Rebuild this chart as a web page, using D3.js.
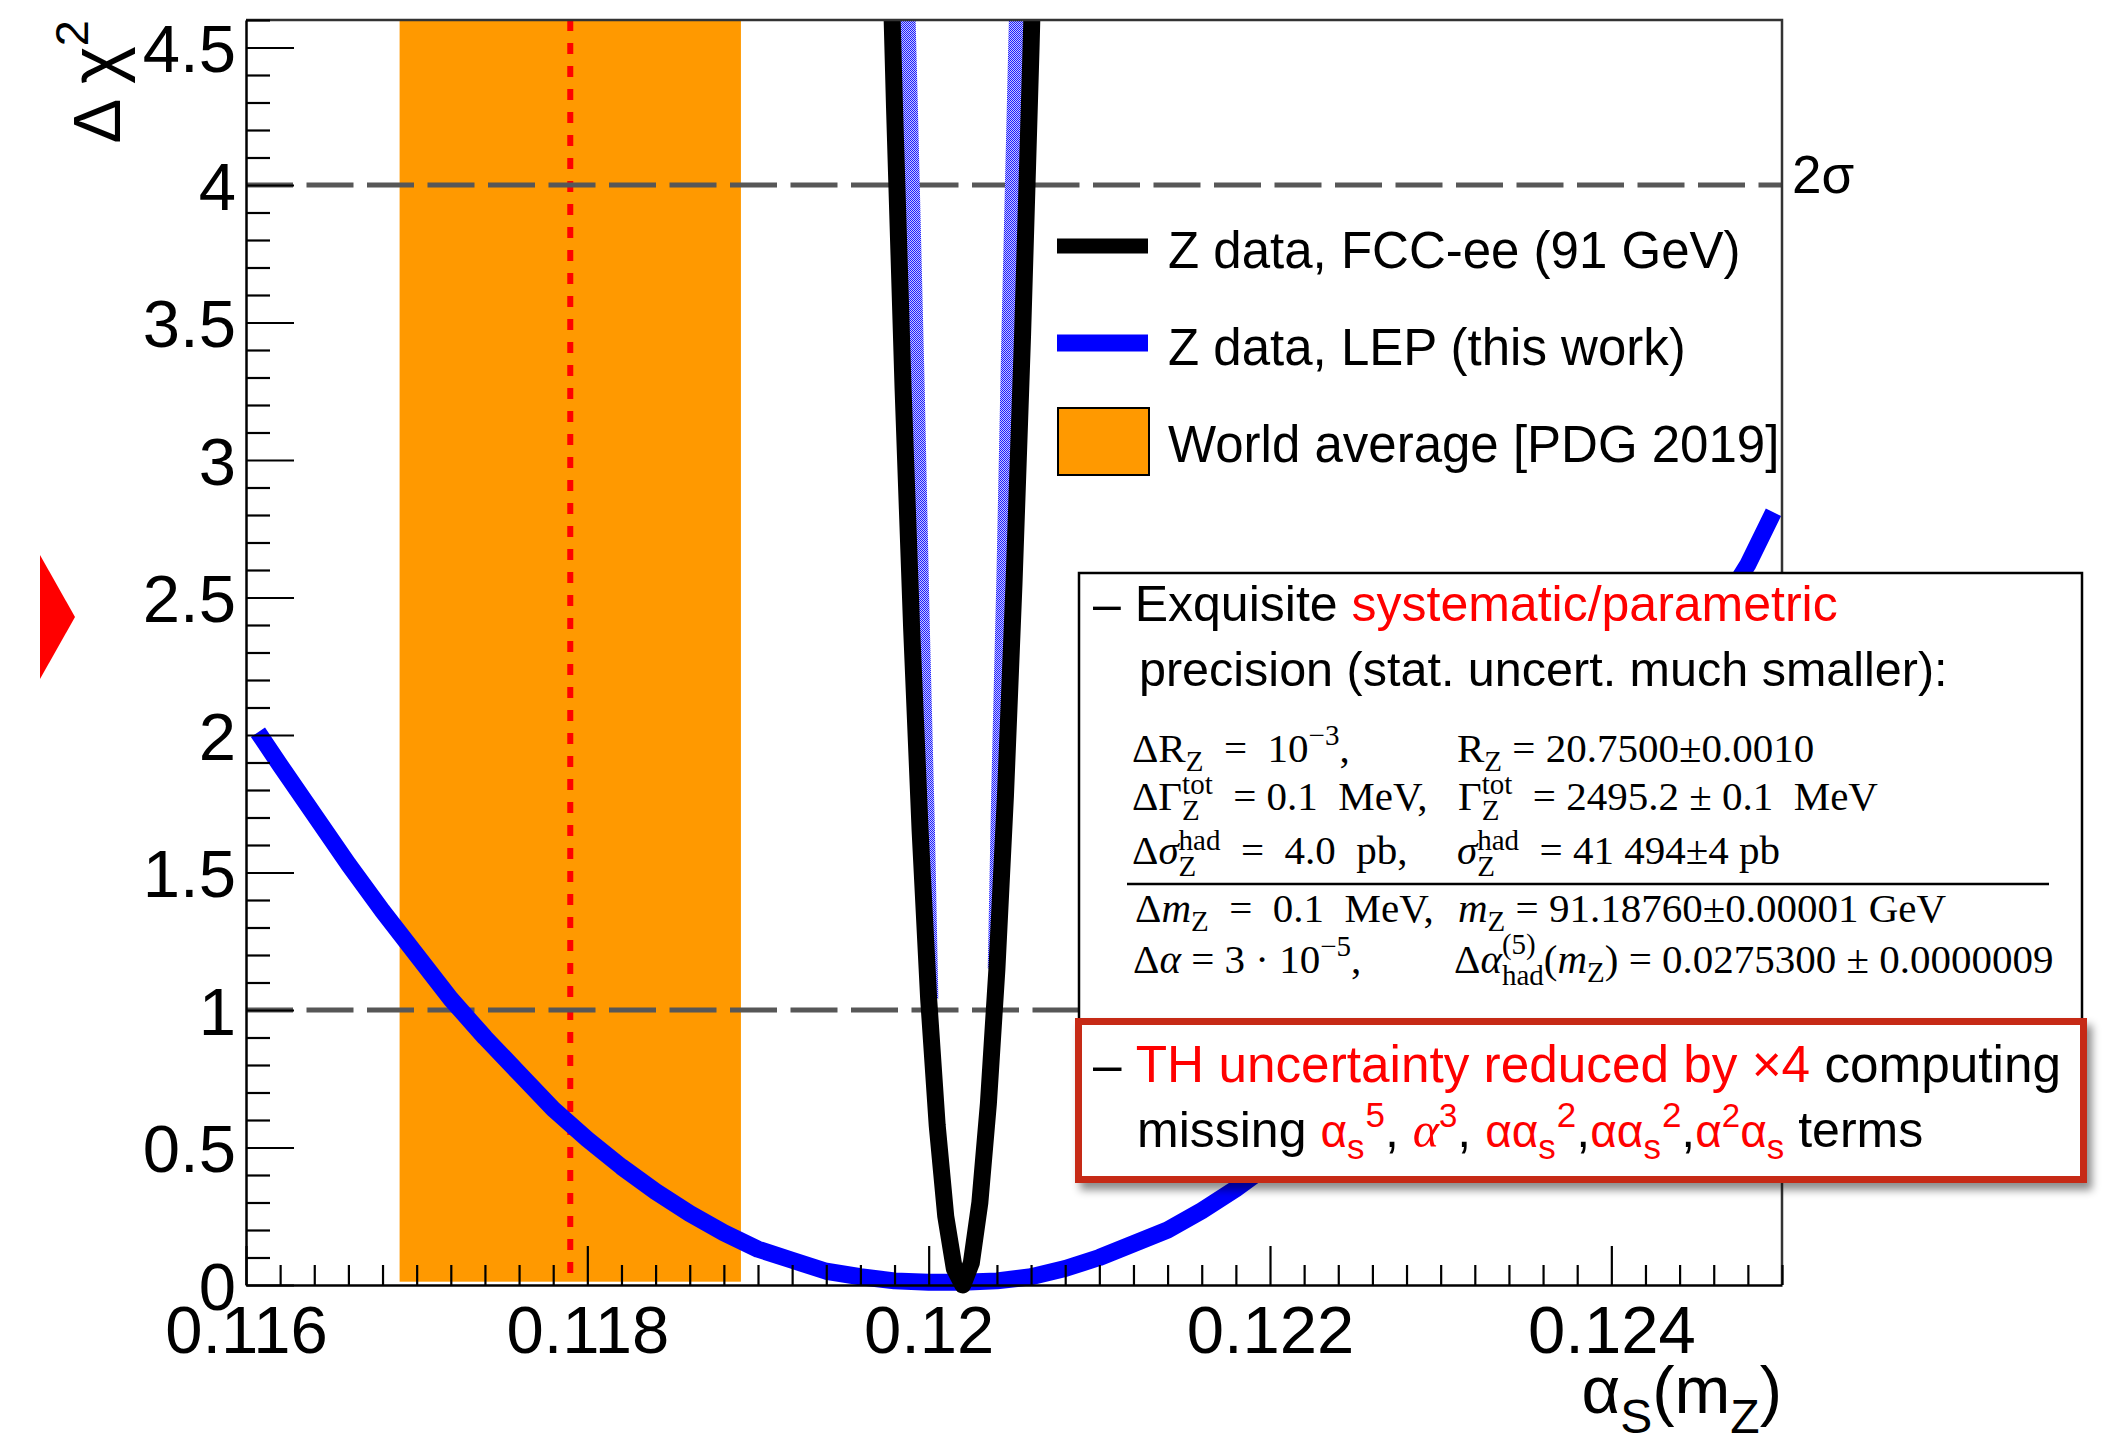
<!DOCTYPE html>
<html><head><meta charset="utf-8">
<script src="https://cdn.jsdelivr.net/npm/d3@7"></script>
<style>
html,body{margin:0;padding:0;background:#fff;}
svg{display:block;}
text{white-space:pre;}
</style></head><body>
<svg id="c" width="2106" height="1444" xmlns="http://www.w3.org/2000/svg"></svg>
<script>
// ---------------- data ----------------
const xTickValues = [0.116, 0.118, 0.120, 0.122, 0.124];
const xTickLabels = ["0.116", "0.118", "0.12", "0.122", "0.124"];
const yTickValues = [0, 0.5, 1, 1.5, 2, 2.5, 3, 3.5, 4, 4.5];
const yTickLabels = ["0", "0.5", "1", "1.5", "2", "2.5", "3", "3.5", "4", "4.5"];

// LEP (this work) Delta chi^2 curve
const lepAlpha = [0.11607, 0.1162, 0.1164, 0.1166, 0.1168, 0.1170, 0.1172, 0.1174, 0.1176, 0.1178,
  0.1180, 0.1182, 0.1184, 0.1186, 0.1188, 0.1190, 0.1192, 0.1194, 0.1196, 0.1198,
  0.1200, 0.1202, 0.1204, 0.1206, 0.1208, 0.1210, 0.1212, 0.1214, 0.1216, 0.1218,
  0.1220, 0.1222, 0.1224, 0.1226, 0.1228, 0.1230, 0.1232, 0.1234, 0.1236, 0.1238,
  0.1240, 0.1242, 0.1244, 0.1246, 0.1248, 0.12495];
const lepChi2 = [2.01, 1.89, 1.71, 1.53, 1.36, 1.20, 1.04, 0.90, 0.77, 0.64,
  0.53, 0.43, 0.34, 0.26, 0.19, 0.13, 0.09, 0.05, 0.03, 0.015,
  0.01, 0.01, 0.015, 0.03, 0.06, 0.10, 0.15, 0.20, 0.27, 0.35,
  0.44, 0.53, 0.64, 0.76, 0.88, 1.02, 1.16, 1.32, 1.48, 1.65,
  1.83, 2.02, 2.22, 2.42, 2.62, 2.81];

// FCC-ee projection
const fccAlpha = [0.11975, 0.11980, 0.11985, 0.11990, 0.11995, 0.12000, 0.12005, 0.12010, 0.12015, 0.12020,
  0.12025, 0.12030, 0.12035, 0.12040, 0.12045, 0.12050, 0.12055, 0.12060, 0.12065];
const fccChi2 = [5.43, 4.28, 3.26, 2.39, 1.65, 1.04, 0.58, 0.25, 0.06, 0.00,
  0.08, 0.30, 0.66, 1.15, 1.78, 2.55, 3.45, 4.50, 5.67];

// hatched (blue stipple) band along the inner side of the FCC-ee curve
const bandLeftAlpha = [0.11986, 0.11989, 0.11993, 0.11996, 0.11999, 0.12001];
const bandLeftChi2 = [5.0, 4.28, 3.26, 2.39, 1.65, 1.04];
const bandRightAlpha = [0.12039, 0.12041, 0.12044, 0.12047, 0.12051, 0.12053];
const bandRightChi2 = [1.15, 1.78, 2.55, 3.45, 4.50, 5.0];

// PDG 2019 world average
const pdgCentral = 0.1179, pdgLow = 0.1169, pdgHigh = 0.1189;
const sigmaLevels = [1, 4];
const legendLabels = ["Z data, FCC-ee (91 GeV)", "Z data, LEP (this work)", "World average [PDG 2019]"];

// ---------------- layout ----------------
const L = 246, R = 1782, T = 20, B = 1285;
const SANS = "'Liberation Sans', Arial, Helvetica, sans-serif";
const SERIF = "'Liberation Serif', 'Times New Roman', serif";
const svg = d3.select("#c");
const x = d3.scaleLinear().domain([0.116, 0.125]).range([L, R]);
const y = d3.scaleLinear().domain([0, 4.6]).range([B, T]);

const defs = svg.append("defs");
defs.append("clipPath").attr("id", "clipTop").append("rect")
  .attr("x", L).attr("y", T).attr("width", R - L).attr("height", 1444 - T);
const pat = defs.append("pattern").attr("id", "stip").attr("patternUnits", "userSpaceOnUse")
  .attr("width", 2).attr("height", 2);
pat.append("rect").attr("width", 2).attr("height", 2).attr("fill", "#c4c4ff");
pat.append("rect").attr("width", 1).attr("height", 1).attr("fill", "#1e1eff");
pat.append("rect").attr("x", 1).attr("y", 1).attr("width", 1).attr("height", 1).attr("fill", "#1e1eff");
const f = defs.append("filter").attr("id", "shadow").attr("x", "-5%").attr("y", "-20%").attr("width", "115%").attr("height", "150%");
f.append("feDropShadow").attr("dx", 5).attr("dy", 7).attr("stdDeviation", 4)
  .attr("flood-color", "#000").attr("flood-opacity", 0.45);

// rich text helper
function rich(parent, x0, y0, pieces, size, family) {
  let cx = x0;
  for (const p of pieces) {
    if (p.gap !== undefined) { cx += p.gap; continue; }
    if (p.stack) {
      const s = p.size || size * 0.7;
      const a = parent.append("text").attr("x", cx).attr("y", y0 - p.up).attr("font-size", s)
        .attr("font-family", p.f || family).attr("fill", p.c || "#000").text(p.sup);
      const b = parent.append("text").attr("x", cx).attr("y", y0 + p.down).attr("font-size", s)
        .attr("font-family", p.f || family).attr("fill", p.c || "#000").text(p.sub);
      cx += Math.max(a.node().getComputedTextLength(), b.node().getComputedTextLength()) + (p.after || 0);
      continue;
    }
    const t = parent.append("text").attr("x", cx).attr("y", y0 + (p.dy || 0))
      .attr("font-size", p.size || size).attr("font-family", p.f || family)
      .attr("font-style", p.it ? "italic" : "normal").attr("fill", p.c || "#000").text(p.t);
    cx += t.node().getComputedTextLength() + (p.after || 0);
  }
  return cx;
}

// ---------------- plot ----------------
svg.append("rect").attr("x", x(pdgLow)).attr("width", x(pdgHigh) - x(pdgLow))
  .attr("y", y(4.6)).attr("height", y(0.012) - y(4.6)).attr("fill", "#ff9900");
svg.append("line").attr("x1", x(pdgCentral)).attr("x2", x(pdgCentral)).attr("y1", y(4.6)).attr("y2", y(0))
  .attr("stroke", "#ff0000").attr("stroke-width", 6).attr("stroke-dasharray", "11 12");

svg.selectAll("line.lvl").data(sigmaLevels).join("line").attr("class", "lvl")
  .attr("x1", L).attr("x2", R).attr("y1", d => y(d)).attr("y2", d => y(d))
  .attr("stroke", "#575757").attr("stroke-width", 5).attr("stroke-dasharray", "47 13.5");

const line = d3.line().x(d => x(d[0])).y(d => y(d[1]));
const curves = svg.append("g").attr("clip-path", "url(#clipTop)");
curves.append("path").attr("d", line(d3.zip(lepAlpha, lepChi2)))
  .attr("fill", "none").attr("stroke", "#0000ff").attr("stroke-width", 17).attr("stroke-linejoin", "round");
curves.append("path").attr("d", line(d3.zip(bandLeftAlpha, bandLeftChi2)))
  .attr("fill", "none").attr("stroke", "url(#stip)").attr("stroke-width", 16).attr("stroke-linejoin", "round");
curves.append("path").attr("d", line(d3.zip(bandRightAlpha, bandRightChi2)))
  .attr("fill", "none").attr("stroke", "url(#stip)").attr("stroke-width", 15).attr("stroke-linejoin", "round");
curves.append("path").attr("d", line(d3.zip(fccAlpha, fccChi2)))
  .attr("fill", "none").attr("stroke", "#000").attr("stroke-width", 17).attr("stroke-linejoin", "round");

svg.append("path").attr("d", `M${L},${T}H${R}V${B}`).attr("fill", "none").attr("stroke", "#333").attr("stroke-width", 2.5);

// axes
const yMinor = d3.range(0, 4.6001, 0.1).map(v => +v.toFixed(1)).filter(v => Math.abs(v * 2 - Math.round(v * 2)) > 1e-6);
const xMinor = d3.range(0.116, 0.12501, 0.0002).map(v => +v.toFixed(4)).filter(v => Math.abs(v / 0.002 - Math.round(v / 0.002)) > 1e-6);

const gy = svg.append("g").attr("transform", `translate(${L},0)`)
  .call(d3.axisLeft(y).tickValues(yTickValues).tickFormat((d, i) => yTickLabels[i]).tickSize(-48).tickSizeOuter(0).tickPadding(10));
svg.append("g").attr("transform", `translate(${L},0)`)
  .call(d3.axisLeft(y).tickValues(yMinor).tickFormat("").tickSize(-24).tickSizeOuter(0))
  .call(g => g.select(".domain").remove());
const gx = svg.append("g").attr("transform", `translate(0,${B})`)
  .call(d3.axisBottom(x).tickValues(xTickValues).tickFormat((d, i) => xTickLabels[i]).tickSize(-39).tickSizeOuter(0).tickPadding(20));
svg.append("g").attr("transform", `translate(0,${B})`)
  .call(d3.axisBottom(x).tickValues(xMinor).tickFormat("").tickSize(-20).tickSizeOuter(0))
  .call(g => g.select(".domain").remove());
svg.selectAll(".tick line").attr("stroke", "#000").attr("stroke-width", 2.2);
svg.selectAll(".domain").attr("stroke", "#000").attr("stroke-width", 2.5);
[gy, gx].forEach(g => g.selectAll("text").attr("font-family", SANS).attr("font-size", 67).attr("fill", "#000"));
gy.selectAll("text").attr("dy", "0.36em");

// axis titles
const xt = svg.append("g");
const xw = rich(xt, 0, 1413, [
  { t: "α" }, { t: "S", size: 48, dy: 20 }, { t: "(m" }, { t: "Z", size: 48, dy: 20 }, { t: ")" }
], 67, SANS);
xt.attr("transform", `translate(${R - xw},0)`);

const ytOuter = svg.append("g").attr("transform", `translate(120,20) rotate(-90)`);
const yt = ytOuter.append("g");
const yw = rich(yt, 0, 0, [{ t: "Δ " }, { t: "χ", size: 72 }, { t: "2", size: 47, dy: -32 }], 67, SANS);
yt.attr("transform", `translate(${-yw},0)`);

svg.append("text").attr("x", 1792).attr("y", 193).attr("font-family", SANS).attr("font-size", 53).text("2σ");

// legend
const lg = svg.append("g");
lg.append("line").attr("x1", 1057).attr("x2", 1148).attr("y1", 246).attr("y2", 246).attr("stroke", "#000").attr("stroke-width", 15);
lg.append("line").attr("x1", 1057).attr("x2", 1148).attr("y1", 343).attr("y2", 343).attr("stroke", "#0000ff").attr("stroke-width", 17);
lg.append("rect").attr("x", 1058).attr("y", 408).attr("width", 91).attr("height", 67).attr("fill", "#ff9900").attr("stroke", "#000").attr("stroke-width", 2);
lg.selectAll("text").data(legendLabels).join("text")
  .attr("x", 1168).attr("y", (d, i) => [268, 365, 462][i])
  .attr("font-family", SANS).attr("font-size", 51).attr("fill", "#000").text(d => d);

// ---------------- text boxes ----------------
svg.append("rect").attr("x", 1079).attr("y", 573).attr("width", 1003).attr("height", 460)
  .attr("fill", "#fff").attr("stroke", "#000").attr("stroke-width", 2.5);
const tb = svg.append("g");
rich(tb, 1093, 621, [{ t: "– " }, { t: "Exquisite " }, { t: "systematic/parametric", c: "#ff0000" }], 50, SANS);
rich(tb, 1139, 686, [{ t: "precision (stat. uncert. much smaller):" }], 48.5, SANS);

const M = 41, S = 29;
const sub = t => ({ t, size: S, dy: 9 });
const sup = t => ({ t, size: S, dy: -17 });
const mg = svg.append("g");
rich(mg, 1132, 762, [{ t: "ΔR" }, sub("Z"), { t: "  =  10" }, sup("−3"), { t: "," }], M, SERIF);
rich(mg, 1457, 762, [{ t: "R" }, sub("Z"), { t: " = 20.7500±0.0010" }], M, SERIF);
rich(mg, 1132, 810, [{ t: "ΔΓ" }, { stack: true, sup: "tot", sub: "Z", up: 16, down: 10, size: S }, { t: "  = 0.1  MeV," }], M, SERIF);
rich(mg, 1458, 810, [{ t: "Γ" }, { stack: true, sup: "tot", sub: "Z", up: 16, down: 10, size: S }, { t: "  = 2495.2 ± 0.1  MeV" }], M, SERIF);
rich(mg, 1132, 864, [{ t: "Δ" }, { t: "σ", it: true }, { stack: true, sup: "had", sub: "Z", up: 14, down: 12, size: S }, { t: "  =  4.0  pb," }], M, SERIF);
rich(mg, 1457, 864, [{ t: "σ", it: true }, { stack: true, sup: "had", sub: "Z", up: 14, down: 12, size: S }, { t: "  = 41 494±4 pb" }], M, SERIF);
mg.append("line").attr("x1", 1127).attr("x2", 2049).attr("y1", 884).attr("y2", 884).attr("stroke", "#000").attr("stroke-width", 2.5);
rich(mg, 1135, 922, [{ t: "Δ" }, { t: "m", it: true }, sub("Z"), { t: "  =  0.1  MeV," }], M, SERIF);
rich(mg, 1458, 922, [{ t: "m", it: true }, sub("Z"), { t: " = 91.18760±0.00001 GeV" }], M, SERIF);
rich(mg, 1133, 973, [{ t: "Δ" }, { t: "α", it: true }, { t: " = 3 · 10" }, sup("−5"), { t: "," }], M, SERIF);
rich(mg, 1454, 973, [{ t: "Δ" }, { t: "α", it: true }, { stack: true, sup: "(5)", sub: "had", up: 19, down: 12, size: S }, { t: "(" }, { t: "m", it: true }, sub("Z"), { t: ") = 0.0275300 ± 0.0000009" }], M, SERIF);

// TH box
svg.append("rect").attr("x", 1078.5).attr("y", 1021.5).attr("width", 1005).attr("height", 158)
  .attr("fill", "#fff").attr("stroke", "#c62a12").attr("stroke-width", 7).attr("filter", "url(#shadow)");
const th = svg.append("g");
const RED = "#ff0000";
rich(th, 1093, 1082, [{ t: "– " }, { t: "TH uncertainty reduced by ×4", c: RED }, { t: " computing" }], 51.3, SANS);
const A = 46;
rich(th, 1137, 1147, [
  { t: "missing " },
  { t: "α", c: RED, size: A }, { t: "s", c: RED, size: 35, dy: 12, after: 1 }, { t: "5", c: RED, size: 35, dy: -20 },
  { t: ", " },
  { t: "α", c: RED, it: true, f: SERIF }, { t: "3", c: RED, size: 33, dy: -20 },
  { t: ", " },
  { t: "αα", c: RED, size: A }, { t: "s", c: RED, size: 35, dy: 12, after: 1 }, { t: "2", c: RED, size: 35, dy: -20 },
  { t: "," },
  { t: "αα", c: RED, size: A }, { t: "s", c: RED, size: 35, dy: 12, after: 1 }, { t: "2", c: RED, size: 35, dy: -20 },
  { t: "," },
  { t: "α", c: RED, size: A }, { t: "2", c: RED, size: 33, dy: -20 }, { t: "α", c: RED, size: A }, { t: "s", c: RED, size: 35, dy: 12 },
  { t: " terms" }
], 50, SANS);

// red slide marker triangle
svg.append("path").attr("d", "M40,555L75,617L40,679Z").attr("fill", "#ff0000");
</script>
</body></html>
